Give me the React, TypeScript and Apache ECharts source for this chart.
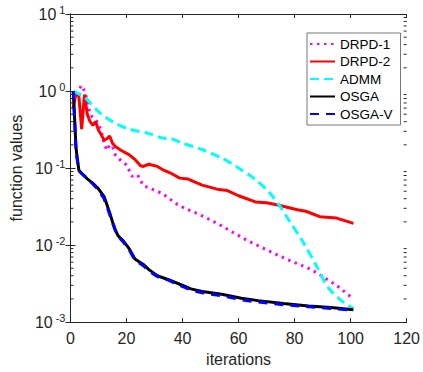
import React, { useEffect, useRef } from "react";
import * as echarts from "echarts";

const seriesNames = ["DRPD-1", "DRPD-2", "ADMM", "OSGA", "OSGA-V"];
const xTicks = [0, 20, 40, 60, 80, 100, 120];
const yTickExponents = [-3, -2, -1, 0, 1];
const minorTickVals = [
  0.002, 0.003, 0.004, 0.005, 0.006, 0.007, 0.008, 0.009,
  0.02, 0.03, 0.04, 0.05, 0.06, 0.07, 0.08, 0.09,
  0.2, 0.3, 0.4, 0.5, 0.6, 0.7, 0.8, 0.9,
  2, 3, 4, 5, 6, 7, 8, 9,
];

const drpd1Iter = [1, 2, 3, 4, 5, 6, 7, 8, 9, 10, 11, 12, 13, 14, 15, 16, 18, 20, 22, 24, 26, 31, 33, 38, 40, 47, 53, 63, 74, 77, 86, 95, 101];
const drpd1Val = [0.75, 0.9, 1.05, 1.18, 1.0, 0.75, 0.5, 0.45, 0.42, 0.38, 0.3, 0.21, 0.17, 0.2, 0.19, 0.148, 0.125, 0.11, 0.078, 0.081, 0.059, 0.05, 0.046, 0.034, 0.031, 0.024, 0.0186, 0.0115, 0.0074, 0.0066, 0.0048, 0.003, 0.002];

const drpd2Iter = [1, 2, 3, 4, 5, 6, 7, 8, 9, 10, 11, 12, 13, 14, 15, 16, 18, 21, 23, 25, 26, 28, 31, 33, 36, 39, 42, 47, 53, 56, 60, 66, 70, 74, 81, 84, 89, 95, 101];
const drpd2Val = [0.6, 0.95, 0.85, 0.32, 0.9, 0.5, 0.4, 0.36, 0.4, 0.31, 0.27, 0.23, 0.24, 0.26, 0.21, 0.19, 0.17, 0.148, 0.129, 0.107, 0.105, 0.112, 0.105, 0.095, 0.085, 0.074, 0.072, 0.06, 0.0525, 0.051, 0.0437, 0.0363, 0.0355, 0.0331, 0.0288, 0.0275, 0.0234, 0.0224, 0.0191];

const admmIter = [1, 5, 10, 15, 21, 28, 33, 36, 40, 47, 54, 60, 66, 71, 75, 78, 83, 88, 92, 97, 101];
const admmVal = [1, 0.83, 0.54, 0.4, 0.32, 0.28, 0.245, 0.24, 0.21, 0.174, 0.135, 0.1, 0.071, 0.048, 0.031, 0.021, 0.011, 0.0052, 0.0028, 0.00186, 0.0015];

const osgaIter = [1, 2, 3, 4, 6, 8, 10, 12, 14, 15, 16, 17, 19, 21, 23, 26, 28, 31, 35, 39, 43, 47, 54, 61, 67, 76, 85, 93, 101];
const osgaVal = [1, 0.178, 0.0933, 0.0851, 0.0724, 0.0631, 0.0537, 0.0427, 0.0263, 0.02, 0.0158, 0.0132, 0.0112, 0.0089, 0.0066, 0.0056, 0.0048, 0.004, 0.00355, 0.0031, 0.0027, 0.0025, 0.0023, 0.00204, 0.0019, 0.00174, 0.00162, 0.00155, 0.00145];

const osgavIter = [1, 2, 3, 4, 6, 8, 10, 12, 14, 15, 16, 17, 19, 21, 23, 26, 28, 31, 35, 39, 43, 47, 54, 61, 67, 76, 85, 93, 101];
const osgavVal = [1, 0.16, 0.093, 0.085, 0.073, 0.062, 0.052, 0.04, 0.025, 0.0195, 0.0155, 0.013, 0.0108, 0.0086, 0.0064, 0.0054, 0.0046, 0.0039, 0.0035, 0.003, 0.0026, 0.0024, 0.0022, 0.00195, 0.00182, 0.00168, 0.00158, 0.0015, 0.00142];

const zip = (xs: number[], ys: number[]) => xs.map((x, i) => [x, ys[i]]);

const FONT = "'Liberation Sans', Arial, Helvetica, sans-serif";

export default function App() {
  const ref = useRef<HTMLDivElement>(null);
  useEffect(() => {
    if (!ref.current) return;
    const chart = echarts.init(ref.current, null, { renderer: "svg" });
    const axisLine = { show: true, lineStyle: { color: "#262626", width: 1 } };
    const yFormatter = (v: number) => {
      const e = Math.round(Math.log10(v));
      return yTickExponents.includes(e) ? `{b|10}{e|${e}}` : "";
    };
    const option: any = {
      animation: false,
      backgroundColor: "#fff",
      textStyle: { fontFamily: FONT },
      grid: { left: 63, right: 10, top: 14, bottom: 47 },
      legend: {
        orient: "vertical",
        left: 307,
        top: 33,
        data: seriesNames,
        itemWidth: 25,
        itemHeight: 14,
        itemGap: 3.5,
        padding: [4, 8, 4, 2],
        backgroundColor: "#fff",
        borderColor: "#777",
        borderWidth: 1,
        borderRadius: 0,
        itemStyle: { opacity: 0 },
        textStyle: { fontSize: 13.5, color: "#000", fontFamily: FONT },
      },
      xAxis: [
        {
          type: "value",
          min: xTicks[0],
          max: xTicks[xTicks.length - 1],
          interval: 20,
          name: "iterations",
          nameLocation: "middle",
          nameGap: 28,
          nameTextStyle: { fontSize: 16, color: "#262626", fontFamily: FONT },
          axisLine,
          axisTick: { show: true, inside: true, length: 4, lineStyle: { color: "#262626" } },
          axisLabel: { fontSize: 16, color: "#262626", margin: 8, fontFamily: FONT },
          splitLine: { show: false },
        },
        {
          type: "value",
          position: "top",
          min: xTicks[0],
          max: xTicks[xTicks.length - 1],
          interval: 20,
          axisLine,
          axisTick: { show: true, inside: true, length: 4, lineStyle: { color: "#262626" } },
          axisLabel: { show: false },
          splitLine: { show: false },
        },
      ],
      yAxis: [
        {
          type: "log",
          logBase: 10,
          min: 0.001,
          max: 10,
          name: "function values",
          nameLocation: "middle",
          nameGap: 40,
          nameTextStyle: { fontSize: 16, color: "#262626", fontFamily: FONT },
          axisLine,
          axisTick: { show: true, inside: true, length: 5, lineStyle: { color: "#262626" } },
          axisLabel: {
            margin: 5,
            formatter: yFormatter,
            rich: {
              b: { fontSize: 16, color: "#262626", fontFamily: FONT },
              e: { fontSize: 11, color: "#262626", fontFamily: FONT, padding: [0, 0, 9, 3] },
            },
          },
          splitLine: { show: false },
        },
        {
          type: "log",
          logBase: 10,
          min: 0.001,
          max: 10,
          position: "right",
          axisLine,
          axisTick: { show: true, inside: true, length: 5, lineStyle: { color: "#262626" } },
          axisLabel: { show: false },
          splitLine: { show: false },
        },
      ],
      series: [
        {
          type: "custom",
          silent: true,
          coordinateSystem: "cartesian2d",
          data: minorTickVals.map((v) => [0, v]),
          renderItem: (params: any, api: any) => {
            const v = api.value(1);
            const l = api.coord([xTicks[0], v]);
            const r = api.coord([xTicks[xTicks.length - 1], v]);
            const st = { stroke: "#262626", lineWidth: 1 };
            return {
              type: "group",
              children: [
                { type: "line", shape: { x1: l[0], y1: l[1], x2: l[0] + 3, y2: l[1] }, style: st },
                { type: "line", shape: { x1: r[0] - 3, y1: r[1], x2: r[0], y2: r[1] }, style: st },
              ],
            };
          },
          z: 1,
        },
        {
          name: "DRPD-1",
          type: "line",
          data: zip(drpd1Iter, drpd1Val),
          showSymbol: false,
          symbol: "none",
          lineStyle: { color: "#ff00ff", width: 3, type: [2.5, 4.5] },
          itemStyle: { color: "#ff00ff" },
          z: 3,
        },
        {
          name: "DRPD-2",
          type: "line",
          data: zip(drpd2Iter, drpd2Val),
          symbol: "none",
          lineStyle: { color: "#ff0000", width: 3 },
          itemStyle: { color: "#ff0000" },
          z: 3,
        },
        {
          name: "ADMM",
          type: "line",
          data: zip(admmIter, admmVal),
          symbol: "none",
          smooth: 0.3,
          lineStyle: { color: "#00ffff", width: 3, type: [9, 5] },
          itemStyle: { color: "#00ffff" },
          z: 3,
        },
        {
          name: "OSGA",
          type: "line",
          data: zip(osgaIter, osgaVal),
          symbol: "none",
          lineStyle: { color: "#000000", width: 3 },
          itemStyle: { color: "#000000" },
          z: 3,
        },
        {
          name: "OSGA-V",
          type: "line",
          data: zip(osgavIter, osgavVal),
          symbol: "none",
          lineStyle: { color: "#0000ff", width: 3, type: [9, 7] },
          itemStyle: { color: "#0000ff" },
          z: 4,
        },
      ],
    };
    chart.setOption(option);
    return () => chart.dispose();
  }, []);
  return (
    <div
      ref={ref}
      style={{ position: "fixed", left: 0, top: 0, width: 423, height: 372, background: "#fff" }}
    />
  );
}
